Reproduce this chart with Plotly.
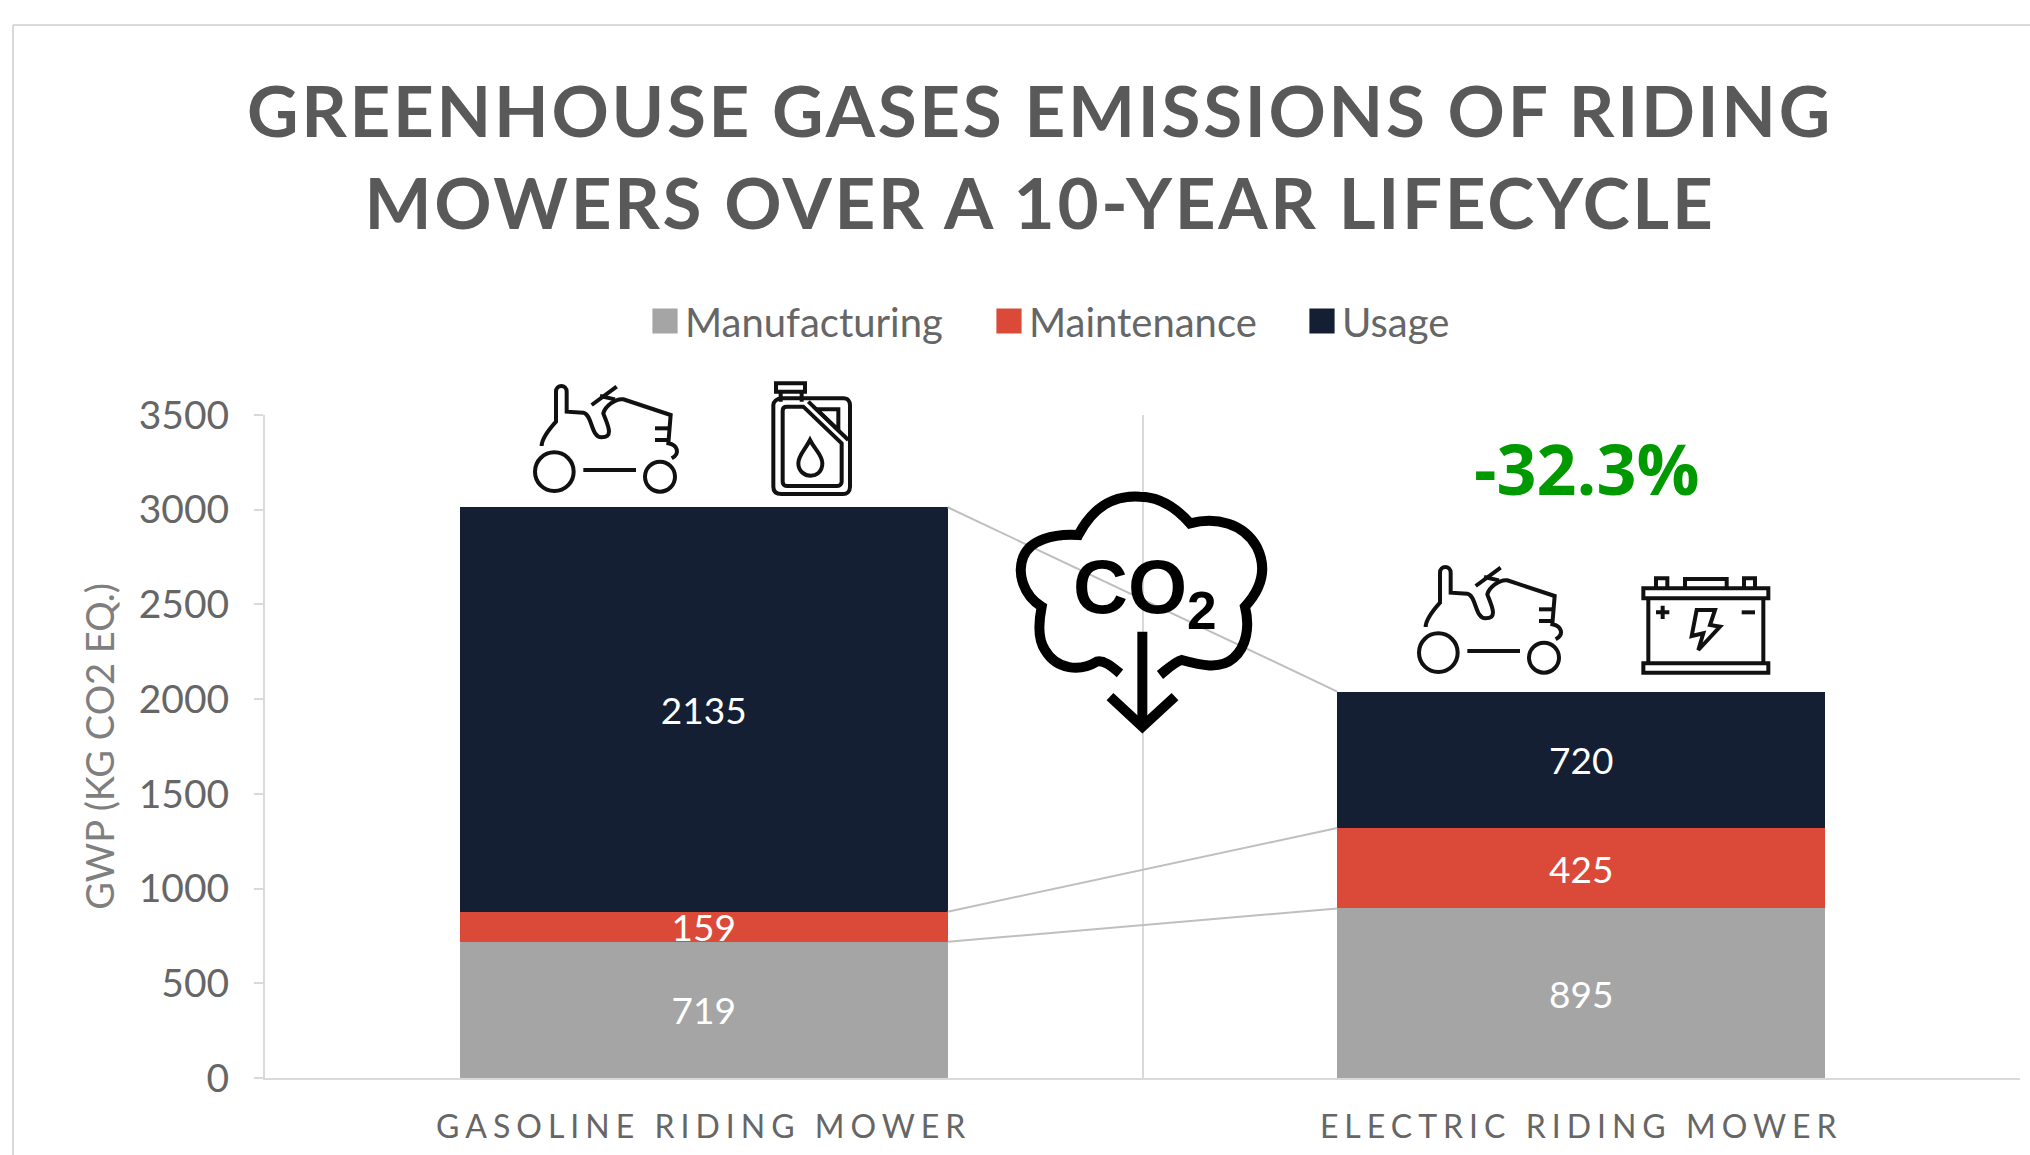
import re
import plotly.graph_objects as go

categories = ['GASOLINE RIDING MOWER', 'ELECTRIC RIDING MOWER']
manufacturing = [719, 895]
maintenance = [159, 425]
usage = [2135, 720]
y_ticks = [0, 500, 1000, 1500, 2000, 2500, 3000, 3500]

GREY = '#A5A5A5'
RED = '#DB4A39'
NAVY = '#141F33'
TEXT = '#666666'
LINE = '#d9d9d9'
FONT = 'Lato'

W, H = 2030, 1155
L, R, T, B = 265, 10, 415, 77
BAR_W = 0.556


# image pixels -> paper coordinates
def px(x):
    return (x - L) / (W - L - R)

def py(y):
    return 1 - (y - T) / (H - T - B)

def traced(path, ox, oy):
    out = []
    is_x = True
    for tok in re.findall(r'[MLCZ]|-?[\d.]+', path):
        if tok in 'MLCZ':
            out.append(tok)
            is_x = True
        elif is_x:
            out.append(f'{px(ox + float(tok) / 3):.5f}')
            is_x = False
        else:
            out.append(f'{py(oy + float(tok) / 3):.5f},')
            is_x = True
    return ' '.join(out).replace(', ', ' ').replace(',', '')

def stroke(path, ox, oy, width=4, color='#111111'):
    return dict(type='path', xref='paper', yref='paper', path=traced(path, ox, oy),
                line=dict(color=color, width=width))

def ring(cx, cy, r, ox, oy, width=4):
    return dict(type='circle', xref='paper', yref='paper',
                x0=px(ox + (cx - r) / 3), x1=px(ox + (cx + r) / 3),
                y0=py(oy + (cy + r) / 3), y1=py(oy + (cy - r) / 3),
                line=dict(color='#111111', width=width))

def tractor(ox, oy):
    shapes = [ring(163, 335, 58, ox, oy), ring(480, 350, 45, ox, oy)]
    parts = [
        'M250 330 L408 330',
        'M125 258 C125 235 150 205 168 185 L168 95 C168 72 200 72 200 95 L200 155 L250 158 '
        'C278 165 272 232 305 232 C345 232 320 190 310 160 C315 140 345 115 370 118 L512 165 L505 250 '
        'C532 255 542 280 515 295',
        'M275 135 L350 80',
        'M300 108 L345 118',
        'M465 205 L510 205',
        'M465 240 L505 240',
    ]
    return shapes + [stroke(p, ox, oy) for p in parts]

def jerry_can(ox, oy):
    parts = [
        'M828 70 L915 70 L915 95 L828 95 Z',
        'M842 95 L842 125 M905 95 L905 125',
        'M845 115 L1030 115 C1045 115 1050 125 1050 135 L1050 380 C1050 395 1040 402 1030 402 '
        'L845 402 C830 402 820 395 820 380 L820 135 C820 125 830 115 845 115 Z',
        'M860 140 L910 140 L1025 250 L1025 365 C1025 372 1020 378 1012 378 L860 378 '
        'C852 378 848 372 848 365 L848 152 C848 145 852 140 860 140 Z',
        'M925 125 L1045 240',
        'M950 148 L1015 148 L1015 210 Z',
        'M930 240 C915 270 895 285 895 310 C895 335 915 347 932 347 C950 347 967 335 967 310 C967 285 945 270 930 240 Z',
    ]
    return [stroke(p, ox, oy) for p in parts]

def battery(ox, oy):
    parts = [
        'M790 535 L1165 535 L1165 565 L790 565 Z',
        'M805 565 L805 760 M1150 565 L1150 760',
        'M790 760 L1165 760 L1165 788 L790 788 Z',
        'M828 535 L828 505 L862 505 L862 535',
        'M1092 535 L1092 505 L1125 505 L1125 535',
        'M915 535 L915 507 L1040 507 L1040 535',
        'M828 607 L868 607 M848 587 L848 627',
        'M1085 607 L1125 607',
        'M950 600 L1005 600 L990 645 L1020 650 L955 720 L970 670 L935 678 Z',
    ]
    return [stroke(p, ox, oy) for p in parts]

def co2_cloud(ox, oy):
    parts = [
        'M420 610 C390 585 370 570 350 575 C300 605 230 600 195 540 C175 510 175 460 185 410 '
        'C130 375 110 310 130 260 C150 210 220 190 295 195 C340 110 400 75 480 80 '
        'C540 80 590 115 630 160 C710 140 790 160 830 230 C860 290 850 350 795 410 '
        'C810 470 800 530 760 565 C720 600 660 585 605 570 C585 575 565 595 540 615',
        'M487 485 L487 770',
        'M390 680 L487 770 L585 680',
    ]
    return [stroke(p, ox, oy, width=10, color='#000000') for p in parts]


fig = go.Figure()
for name, values, color in [('Manufacturing', manufacturing, GREY),
                            ('Maintenance', maintenance, RED),
                            ('Usage', usage, NAVY)]:
    fig.add_trace(go.Bar(x=categories, y=values, name=name, marker=dict(color=color, line=dict(width=0)),
                         text=values, textposition='inside', insidetextanchor='middle', textangle=0,
                         constraintext='none', insidetextfont=dict(family=FONT, size=37, color='white')))

# series lines joining the stacked segments of the two bars
shapes = []
left_tops = [manufacturing[0], manufacturing[0] + maintenance[0], manufacturing[0] + maintenance[0] + usage[0]]
right_tops = [manufacturing[1], manufacturing[1] + maintenance[1], manufacturing[1] + maintenance[1] + usage[1]]
for y0, y1 in zip(left_tops, right_tops):
    shapes.append(dict(type='line', xref='x', yref='y', x0=BAR_W / 2, x1=1 - BAR_W / 2, y0=y0, y1=y1,
                       line=dict(color='#bfbfbf', width=2)))

# chart frame, open on the right and at the bottom like the crop
shapes.append(dict(type='line', xref='paper', yref='paper', x0=px(13), x1=px(2030), y0=py(25), y1=py(25),
                   line=dict(color=LINE, width=2)))
shapes.append(dict(type='line', xref='paper', yref='paper', x0=px(13), x1=px(13), y0=py(25), y1=py(1155),
                   line=dict(color=LINE, width=2)))

shapes += tractor(500, 360) + jerry_can(500, 360)
shapes += tractor(1384, 541) + battery(1380, 410)
shapes += co2_cloud(980, 470)

annotations = [
    dict(text='-32.3%', xref='paper', yref='paper', x=px(1587), y=py(468), xanchor='center', yanchor='middle',
         showarrow=False, font=dict(family='Open Sans', size=70, color='#009900', weight='bold')),
    dict(text='CO<sub>2</sub>', xref='paper', yref='paper', x=px(1145), y=py(592), xanchor='center', yanchor='middle',
         showarrow=False, font=dict(family='Liberation Sans', size=76, color='#000000', weight='bold')),
]

fig.update_layout(
    width=W, height=H, autosize=False,
    margin=dict(l=L, r=R, t=T, b=B, pad=0),
    paper_bgcolor='white', plot_bgcolor='white',
    barmode='stack', bargap=1 - BAR_W,
    font=dict(family=FONT, color=TEXT),
    title=dict(text='GREENHOUSE GASES EMISSIONS OF RIDING<br>MOWERS OVER A 10-YEAR LIFECYCLE',
               x=1040 / W, xanchor='center', y=1 - 137 / H, yanchor='middle',
               font=dict(family=FONT, size=71, color='#595959', weight='bold')),
    legend=dict(orientation='h', traceorder='normal', x=px(645), xanchor='left', y=py(321), yanchor='middle',
                font=dict(family=FONT, size=40, color=TEXT), entrywidth=285, entrywidthmode='pixels',
                bgcolor='rgba(0,0,0,0)'),
    xaxis=dict(type='category', tickson='boundaries', showgrid=True, gridcolor=LINE, gridwidth=2,
               ticks='', showline=True, linecolor=LINE, linewidth=2, zeroline=False, ticklabelstandoff=20,
               tickfont=dict(family=FONT, size=32, color=TEXT)),
    yaxis=dict(range=[0, 3500], tickvals=y_ticks, showgrid=False, zeroline=False, showline=True,
               linecolor=LINE, linewidth=2, ticks='outside', ticklen=9, tickcolor=LINE, tickwidth=2,
               ticklabelstandoff=17, tickfont=dict(family=FONT, size=39, color=TEXT),
               title=dict(text='GWP (KG CO2 EQ.)', standoff=12, font=dict(family=FONT, size=38, color='#7f7f7f'))),
    shapes=shapes, annotations=annotations,
)

# letter spacing, legend swatch size and the uneven legend gaps are not plotly options
post = """
document.body.style.margin = 0;
document.documentElement.style.overflow = 'hidden';
var s = document.createElement('style');
s.textContent = '.gtitle{letter-spacing:2.7px} .xtick text{letter-spacing:6px}'
    + ' .legendpoints path{transform:translate(20px,0) scale(2.1)}'
    + ' .legend .traces:nth-child(2){translate:14px 0} .legend .traces:nth-child(3){translate:-3px 0}';
document.head.appendChild(s);
"""
fig.write_html("out.html", post_script=post, config=dict(displayModeBar=False))
